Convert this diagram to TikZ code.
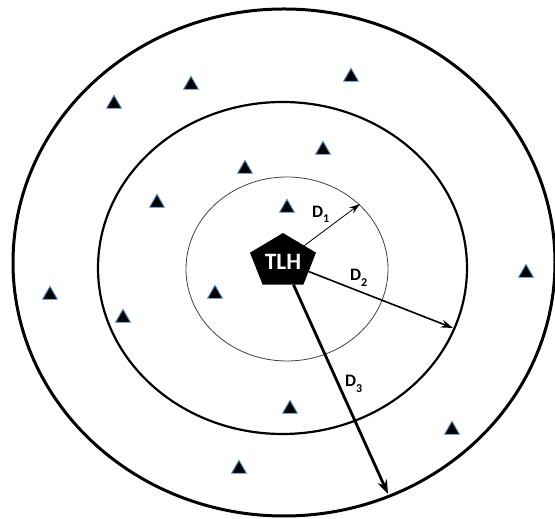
\documentclass[tikz,border=0pt]{standalone}
\usepackage{fontspec}
\setmainfont{Carlito}
\usetikzlibrary{shapes.geometric,arrows.meta}

\definecolor{sensorblue}{RGB}{79,129,189}
\newcommand{\distlabel}[1]{D\raisebox{-5.5pt}{\fontsize{12}{12}\selectfont #1}}

\begin{document}
\begin{tikzpicture}[x=1pt, y=1pt,
    sensor/.style={regular polygon, regular polygon sides=3, minimum size=17pt, inner sep=0pt,
        fill=black, draw=sensorblue, line width=0.9pt, yshift=-2pt},
    hub/.style={regular polygon, regular polygon sides=5, minimum size=60pt, inner sep=0pt,
        fill=black, transform shape},
    hubtext/.style={text=white, font=\bfseries\fontsize{23.5}{24}\selectfont, inner sep=0pt},
    dlab/.style={font=\bfseries\fontsize{17.5}{18}\selectfont, anchor=base west, inner sep=0pt}
]
    \useasboundingbox (0,0) rectangle (555,519);

    % zones
    \draw[line width=3pt] (284,256.5) ellipse [x radius=271, y radius=253.5];
    \draw[line width=2.2pt] (282.5,251) ellipse [x radius=184.5, y radius=166];
    \draw[line width=0.8pt, black!75] (287,250) ellipse [x radius=101, y radius=92];

    % sensor nodes
    \foreach \x/\y [count=\i] in {114/417, 191/436, 351/444, 323/371, 245/352, 157/318, 287/313,
            50/226, 123/203, 215/227, 526/248, 290/112, 452/91, 239/52}
        \node[sensor] (s\i) at (\x,\y) {};

    % cluster head
    \node[hub, xscale=1.157, yscale=0.95] (tlh) at (283,257.5) {};
    \node[hubtext] (tlhtext) at (tlh.center) {TLH};

    \coordinate (r1) at (360,315);
    \coordinate (r2) at (453,191);
    \coordinate (r3) at (388,25);

    \draw[line width=0.8pt, -{Stealth[length=11pt, width=7pt]}] (tlh) -- (r1);
    \draw[line width=1.6pt, -{Stealth[length=12pt, width=8pt]}] (tlh) -- (r2);
    \draw[line width=2.8pt, -{Stealth[length=14pt, width=10pt]}] (tlh) -- (r3);

    \node[dlab] (d1) at (312,301.7) {\distlabel{1}};
    \node[dlab] (d2) at (350,238.3) {\distlabel{2}};
    \node[dlab] (d3) at (345,132.3) {\distlabel{3}};
\end{tikzpicture}
\end{document}
